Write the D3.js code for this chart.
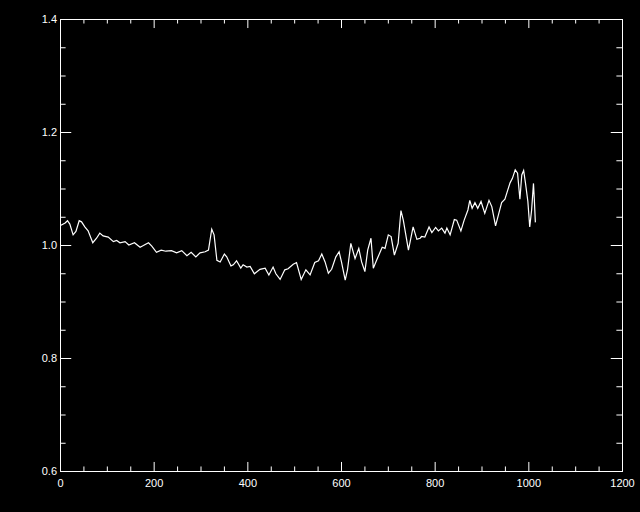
<!DOCTYPE html>
<html>
<head>
<meta charset="utf-8">
<script src="https://cdn.jsdelivr.net/npm/d3@7"></script>
<style>
  html, body { margin: 0; padding: 0; background: #000; }
  svg { display: block; }
  text { font-family: "Liberation Sans", Arial, sans-serif; font-size: 11px; fill: #fff; }
</style>
</head>
<body>
<div id="chart"></div>
<script>
var width = 640,
	height = 512;

// plot box (IDL style)
var pLeft = 60, pRight = 622, pTop = 19, pBottom = 471;

var xTicks = [0, 200, 400, 600, 800, 1000, 1200];
var yTicks = [0.6, 0.8, 1.0, 1.2, 1.4];

// sample index vs ratio
var xs = [2, 11, 16, 21, 28, 34, 41, 46, 53, 60, 70, 78, 85, 92, 103, 114, 121, 128, 139, 147,
	159, 171, 178, 189, 196, 206, 216, 226, 238, 249, 260, 271, 280, 290, 299, 310, 317, 324, 329, 335,
	342, 351, 356, 365, 370, 377, 386, 391, 399, 406, 415, 427, 438, 446, 455, 461, 470, 480, 487, 498,
	505, 515, 525, 534, 544, 552, 559, 566, 573, 580, 589, 596, 601, 609, 614, 621, 630, 638, 644, 651,
	657, 664, 669, 676, 688, 694, 701, 707, 714, 722, 728, 733, 744, 754, 762, 769, 772, 779, 788, 794,
	802, 808, 815, 822, 826, 833, 842, 847, 856, 863, 871, 875, 880, 886, 892, 899, 907, 916, 922, 930,
	936, 943, 950, 956, 961, 966, 972, 977, 982, 986, 990, 994, 999, 1003, 1007, 1011, 1013, 1015];
var ys = [1.035, 1.039, 1.043, 1.037, 1.018, 1.024, 1.043, 1.041, 1.032, 1.025, 1.004, 1.012, 1.021, 1.016, 1.014, 1.006, 1.008, 1.004, 1.006, 1.000,
	1.004, 0.996, 0.999, 1.004, 0.998, 0.987, 0.991, 0.989, 0.990, 0.986, 0.990, 0.981, 0.987, 0.979, 0.986, 0.988, 0.991, 1.028, 1.018, 0.973,
	0.970, 0.984, 0.979, 0.963, 0.965, 0.972, 0.959, 0.965, 0.961, 0.962, 0.949, 0.957, 0.959, 0.947, 0.961, 0.949, 0.939, 0.956, 0.958, 0.966,
	0.969, 0.939, 0.956, 0.947, 0.969, 0.972, 0.984, 0.970, 0.950, 0.957, 0.979, 0.988, 0.970, 0.938, 0.957, 1.003, 0.976, 0.994, 0.970, 0.953,
	0.991, 1.012, 0.959, 0.973, 0.996, 0.994, 1.018, 1.015, 0.982, 1.003, 1.061, 1.044, 0.991, 1.032, 1.010, 1.012, 1.015, 1.014, 1.032, 1.022,
	1.031, 1.025, 1.030, 1.021, 1.030, 1.018, 1.045, 1.044, 1.025, 1.044, 1.062, 1.079, 1.065, 1.075, 1.065, 1.077, 1.056, 1.079, 1.068, 1.034,
	1.053, 1.075, 1.081, 1.097, 1.110, 1.118, 1.133, 1.127, 1.081, 1.124, 1.132, 1.109, 1.077, 1.032, 1.062, 1.109, 1.077, 1.040];

var x = d3.scaleLinear().domain([0, 1200]).range([pLeft, pRight]);
var y = d3.scaleLinear().domain([0.6, 1.4]).range([pBottom, pTop]);

var svg = d3.select('#chart')
	.append('svg')
	.attr('width', width)
	.attr('height', height)
	.style('background', '#000');

var xMinor = d3.range(0, 1201, 50).filter(function(d) { return d % 200 !== 0; });
var yMinor = d3.range(0, 17).map(function(i) { return +(0.6 + i * 0.05).toFixed(2); })
	.filter(function(d) { return Math.round(d * 100) % 20 !== 0; });

var xLen = (pBottom - pTop) * 0.02, yLen = (pRight - pLeft) * 0.02;

function styleAxis(g) {
	g.select('.domain').remove();
	g.selectAll('line').attr('stroke', '#fff');
	g.selectAll('text').attr('fill', '#fff').style('font-size', '11px');
}

// bottom
svg.append('g').attr('transform', 'translate(0,' + pBottom + ')')
	.call(d3.axisBottom(x).tickValues(xTicks).tickSize(-xLen).tickPadding(8).tickFormat(d3.format('d')))
	.call(styleAxis);
svg.append('g').attr('transform', 'translate(0,' + pBottom + ')')
	.call(d3.axisBottom(x).tickValues(xMinor).tickSize(-xLen / 2).tickFormat(''))
	.call(styleAxis);
// top
svg.append('g').attr('transform', 'translate(0,' + pTop + ')')
	.call(d3.axisTop(x).tickValues(xTicks).tickSize(-xLen).tickFormat(''))
	.call(styleAxis);
svg.append('g').attr('transform', 'translate(0,' + pTop + ')')
	.call(d3.axisTop(x).tickValues(xMinor).tickSize(-xLen / 2).tickFormat(''))
	.call(styleAxis);
// left
svg.append('g').attr('transform', 'translate(' + pLeft + ',0)')
	.call(d3.axisLeft(y).tickValues(yTicks).tickSize(-yLen).tickPadding(3).tickFormat(d3.format('.1f')))
	.call(styleAxis);
svg.append('g').attr('transform', 'translate(' + pLeft + ',0)')
	.call(d3.axisLeft(y).tickValues(yMinor).tickSize(-yLen / 2).tickFormat(''))
	.call(styleAxis);
// right
svg.append('g').attr('transform', 'translate(' + pRight + ',0)')
	.call(d3.axisRight(y).tickValues(yTicks).tickSize(-yLen).tickFormat(''))
	.call(styleAxis);
svg.append('g').attr('transform', 'translate(' + pRight + ',0)')
	.call(d3.axisRight(y).tickValues(yMinor).tickSize(-yLen / 2).tickFormat(''))
	.call(styleAxis);

// box
svg.append('rect')
	.attr('x', pLeft + 0.5)
	.attr('y', pTop + 0.5)
	.attr('width', pRight - pLeft)
	.attr('height', pBottom - pTop)
	.attr('fill', 'none')
	.attr('stroke', '#fff')
	.attr('stroke-width', 1);

var line = d3.line()
	.x(function(d, i) { return x(xs[i]); })
	.y(function(d, i) { return y(ys[i]); });

svg.append('path')
	.datum(xs)
	.attr('d', line)
	.attr('fill', 'none')
	.attr('stroke', '#fff')
	.attr('stroke-width', 1.2);
</script>
</body>
</html>
